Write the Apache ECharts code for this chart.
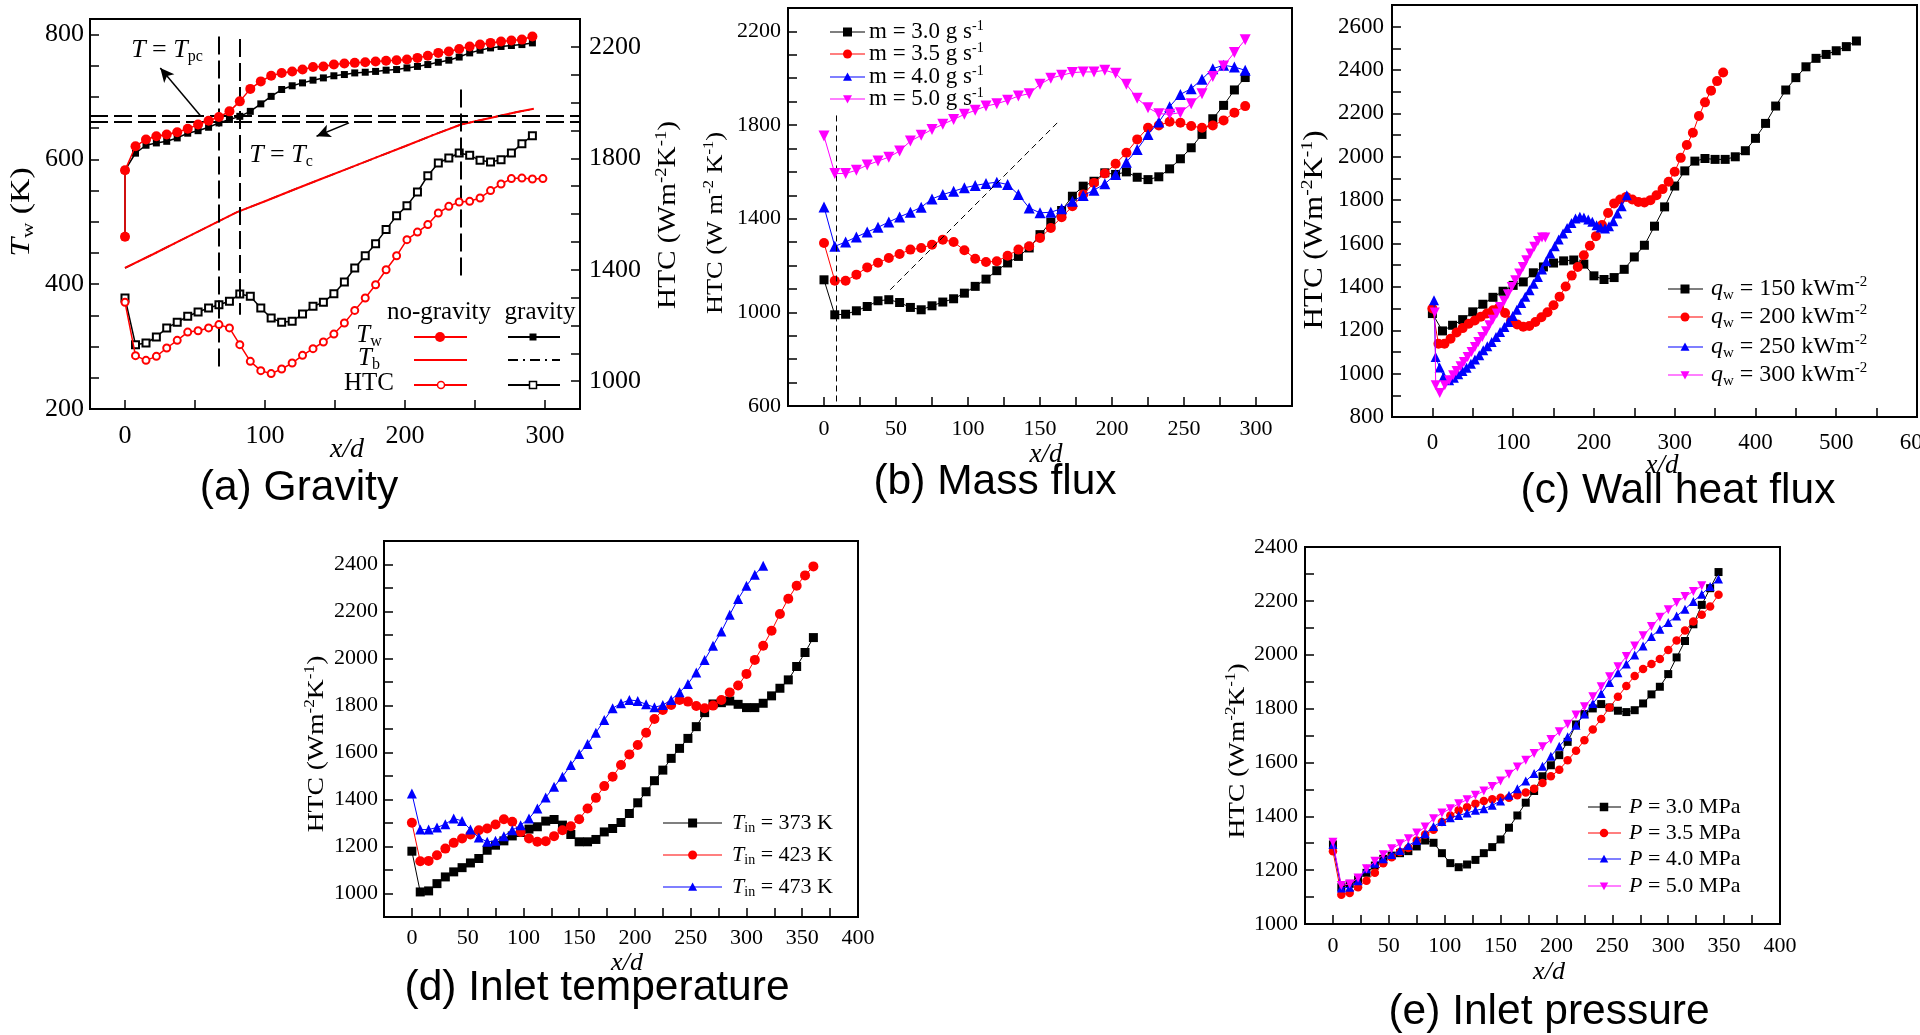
<!DOCTYPE html>
<html><head><meta charset="utf-8">
<script src="https://cdn.jsdelivr.net/npm/echarts@6/dist/echarts.min.js"></script>
<style>html,body{margin:0;padding:0;background:#fff}#c{width:1920px;height:1035px}</style>
</head><body><div id="c"></div><script>
// ---------------- DATA ----------------
// (a) Gravity
const xA = [0,7.5,15,22.4,29.8,37.3,44.8,52.2,59.7,67.1,74.6,82,89.5,97,104.4,111.9,119.4,126.8,134.3,141.7,149.2,156.7,164.1,171.6,179,186.5,194,201.4,208.9,216.3,223.8,231.3,238.7,246.2,253.6,261.1,268.6,276,283.5,291];
const xAlast = 298.5;
const twInlet = 476;
const twNoGravity = [582.6,621,632,637,640,643.5,649,656,662,668,677,693,713,725,734,738.6,741,744,748,749,752,753.6,754.7,755.7,757,758,759,760,762.7,766,770.7,773,777,781,784,786.7,789,790.5,792,797];
const twGravity = [582.6,610,622.7,626.4,629,634.4,642,646,651.5,658.5,664,669,677,689,701,712,718,722.6,727,730.6,734,736,738.6,739.7,741,743,744,746.6,749,752,755.7,759,764,770.7,775,778.7,781,782.5,784,786.7];
const tbX = [0,20,40,60,80,100,120,140,160,180,200,220,240,260,280,292];
const tbValues = [426,448,470.6,493,515.5,533,551,568.5,586,603.6,621,639,656,666,676,681];
const htcGravityA = [1298.5,1131,1137,1158.5,1191,1211,1233,1248,1262.6,1274.5,1286.5,1313,1304.5,1262.6,1226.7,1211,1214.7,1241,1268.5,1283,1314,1356,1406,1450,1493.5,1544,1594,1630,1679,1737.6,1783,1801,1819,1810.6,1792.7,1786.7,1795,1819,1852.5,1881];
const htcNoGravityA = [1283,1091.5,1074.7,1089,1119,1146.5,1176,1181,1191,1203,1191,1131,1071,1037.6,1027,1043.6,1065,1092.6,1116.6,1140.5,1169,1208.7,1254,1298.5,1346,1400,1450,1508,1535,1562,1603.6,1627.5,1643,1645.5,1657.5,1684,1707.7,1727,1729,1725.6,1727];

// (b) Mass flux
const xB = [0,7.5,15,22.5,30,37.5,45,52.5,60,67.5,75,82.5,90,97.5,105,112.5,120,127.5,135,142.5,150,157.5,165,172.5,180,187.5,195,202.5,210,217.5,225,232.5,240,247.5,255,262.5,270,277.5,285,292.5];
const m30 = [1139,989.6,992,1006.7,1025,1049.5,1054,1042,1021,1011,1028,1044,1058,1082,1111,1142,1178,1211,1239,1275,1332,1385,1435,1496,1539,1560,1596,1589,1600,1577,1567,1579,1613,1656,1703,1760,1827,1884,1950,2003];
const m35 = [1296,1135,1135,1161,1192,1212,1232,1249,1268,1275,1289,1310.6,1300.6,1265,1229,1215,1218,1242,1268,1282,1318,1360.6,1406,1453,1503,1553,1593,1634.5,1681.6,1738.7,1788.6,1798.6,1814,1810,1795.8,1788.6,1798.6,1820,1853,1881];
const m40 = [1450.5,1282,1300.6,1322,1343,1363,1386,1407.6,1427.6,1449,1484.7,1503,1517.5,1532,1542,1550,1556,1546,1503,1446,1425,1427.6,1443,1474.7,1499,1522,1549,1589,1641.6,1696,1760,1813,1878.5,1931,1955.6,1995.6,2041,2055.5,2048,2034];
const m50 = [1753,1593,1593,1607,1629,1646,1663,1689,1731.6,1756,1781.5,1803,1824,1845.7,1863,1881,1891,1905.6,1924,1934,1974,2000,2012.6,2024,2027,2027,2034,2021,1974,1914,1874,1848.6,1846,1853,1891,1934,2007,2052.6,2109.6,2164];

// (c) Wall heat flux
const xC150 = [0,12.5,25,37.5,50,62.5,75,87.5,100,112.5,125,137.5,150,162.5,175,187.5,200,212.5,225,237.5,250,262.5,275,287.5,300,312.5,325,337.5,350,362.5,375,387.5,400,412.5,425,437.5,450,462.5,475,487.5,500,512.5,525];
const q150 = [1277,1197,1223,1249,1285,1320,1352,1380,1407,1423,1465,1492,1510,1520,1524,1505,1451,1434,1443,1481,1538,1592,1680,1769,1865,1935,1980,1992,1988,1988,2000,2028,2085,2154,2234,2308,2365,2415,2454,2472,2489,2508,2534];
const xC200 = [0,7.5,15,22.5,30,37.5,45,52.5,60,67.5,75,82.5,90,97.5,105,112.5,120,127.5,135,142.5,150,157.5,165,172.5,180,187.5,195,202.5,210,217.5,225,232.5,240,247.5,255,262.5,270,277.5,285,292.5,300,307.5,315,322.5,330,337.5,345,352.5,360];
const q200 = [1300,1138,1138,1161,1190,1210,1230,1245,1262,1277,1292,1305,1280,1245,1227,1216,1220,1238,1260,1283,1315,1355,1402,1452,1492,1546,1590,1634,1685,1741,1785,1803,1815,1803,1792,1789,1800,1823,1851,1885,1931,1995,2054,2111,2188,2251,2305,2349,2389];
const xC250 = [2,4,9,14,20.7,26.6,32,37.3,42.3,47.7,52.7,58,63,68,73.4,78.8,83.8,89.2,94.2,99.6,104.6,110,115,120.3,125.3,130.7,135.7,141,146,151.5,156.4,161.8,166.8,172.2,177.2,182.6,187.6,193,198,203.3,208.3,213.7,218.7,224,229,234.4,240.7];
const q250 = [1338,1077,1028,988,969,981.5,997,1012,1027.7,1046,1064.6,1084.6,1107.7,1126,1146,1169,1192,1215,1238.5,1266,1295,1326,1354,1384.6,1415,1446,1480,1518.5,1554,1587.7,1618.5,1646,1672,1695,1715,1723,1720,1710.8,1700,1684.6,1674,1669,1680,1703,1738.5,1772,1823];
const xC300 = [2.9,4.1,9.1,15.4,20.7,25.7,29.9,34.9,39,43.6,48.5,52.7,56.8,61.8,66.4,70.5,74.7,79.7,83.8,88.8,93.4,98.3,102.5,107.5,112,116.2,121.2,126.1,130.7,135.7,139.8];
const q300 = [1281.5,946,910.8,946,969,992,1012,1034,1054,1077,1100,1123,1146,1169,1195,1223,1249,1277,1307.7,1335,1366,1400,1430.8,1461.5,1492,1523,1554,1584.6,1612,1627.7,1627.7];

// (d) Inlet temperature
const xD = [0,7.5,15,22.5,30,37.5,45,52.5,60,67.5,75,82.5,90,97.5,105,112.5,120,127.5,135,142.5,150,157.5,165,172.5,180,187.5,195,202.5,210,217.5,225,232.5,240,247.5,255,262.5,270,277.5,285,292.5,300,307.5,315,322.5,330,337.5,345,352.5,360];
const t373 = [1180,1006.6,1011,1042,1070.5,1092,1110,1130,1149,1184,1205.5,1224,1245,1259.5,1274,1284,1308,1315,1291,1251,1220,1220,1230,1262,1276.6,1302,1340.5,1386,1433,1480,1525,1575,1617.6,1660,1710,1769.7,1806.6,1812,1819,1805,1791,1791,1809.5,1841,1873.4,1909,1966,2025.5,2089];
const t423 = [1300.7,1137,1138.7,1163,1191,1215.5,1234,1251,1269.5,1276.6,1293.6,1316,1305,1262,1234,1220,1222.6,1244,1269.5,1286.5,1316,1362,1407,1457,1497,1546.6,1592,1632,1684.4,1742.7,1781,1802,1823.7,1816.6,1798,1788,1799.5,1823.7,1855,1884.8,1934.5,1994,2054,2118,2189,2254.3,2309.7,2353.7,2392];
const t473 = [1425.8,1272,1272,1281,1295,1319,1309,1272,1238,1220,1224,1244,1269.5,1290.8,1319,1362,1408.7,1454,1497,1546.6,1593.5,1636,1684.4,1738.4,1788,1809.5,1823.7,1819.4,1805,1792.4,1802,1823.7,1856.4,1892,1940,1994,2054,2115,2186,2253,2309.7,2356.6,2395];

// (e) Inlet pressure
const xE = [0,7.5,15,22.5,30,37.5,45,52.5,60,67.5,75,82.5,90,97.5,105,112.5,120,127.5,135,142.5,150,157.5,165,172.5,180,187.5,195,202.5,210,217.5,225,232.5,240,247.5,255,262.5,270,277.5,285,292.5,300,307.5,315,322.5,330,337.5,345];
const p30 = [1295.4,1136.5,1149,1165,1190,1217,1242,1254,1263,1270.6,1288,1310,1301.6,1263,1226,1211,1221,1238,1263,1285.5,1314,1357.5,1403,1450.5,1494,1548.6,1589.5,1627,1676.4,1741,1779.4,1800.5,1816.7,1804,1792,1787,1794,1819,1852.7,1881,1928,1990,2051,2113,2185,2247,2307];
const p35 = [1270.6,1109,1115.4,1136.5,1161,1190,1226,1248,1267,1282,1310,1332.6,1350,1378.5,1403,1422,1434,1447,1457,1463,1469,1469,1478,1488,1502.7,1523.8,1548.6,1573,1608,1643,1682.6,1722,1761,1804,1844,1883.7,1921,1947,1965.6,1984,2017.7,2052.5,2090,2123,2148,2179,2222.5];
const p40 = [1295,1134,1136.5,1161,1205,1226,1242,1258,1273,1291.7,1310,1335,1362,1381,1394.7,1403,1412,1422,1428,1440.6,1457,1478,1502.7,1531,1558.5,1586,1623,1660,1695,1738.5,1779.4,1819,1856,1897,1933,1965.6,1999,2032.6,2067.4,2094.7,2119.5,2144,2169,2197.7,2225,2253.6,2281];
const p50 = [1304,1142.7,1149,1171,1205,1233,1257,1279,1298,1316.5,1337.6,1360,1391,1412,1428,1447,1461.7,1478,1494,1511,1531,1556,1583,1608,1633,1658,1685,1713.7,1742,1775.7,1807,1844,1881,1918.5,1955.7,1993,2032.6,2070,2104.6,2139.4,2167,2194,2216.3,2235,2256];

// tick values & labels
const ticksAx = [0,50,100,150,200,250,300], labelsAx = [0,100,200,300];
const ticksAyL = [250,300,350,400,450,500,550,600,650,700,750,800], labelsAyL = [200,400,600,800];
const ticksAyR = [1000,1100,1200,1300,1400,1500,1600,1700,1800,1900,2000,2100,2200], labelsAyR = [1000,1400,1800,2200];
const ticksBx = [0,25,50,75,100,125,150,175,200,225,250,275,300], labelsBx = [0,50,100,150,200,250,300];
const ticksBy = [700,800,900,1000,1100,1200,1300,1400,1500,1600,1700,1800,1900,2000,2100,2200], labelsBy = [600,1000,1400,1800,2200];
const ticksCx = [0,50,100,150,200,250,300,350,400,450,500,550], labelsCx = [0,100,200,300,400,500,600];
const ticksCy = [900,1000,1100,1200,1300,1400,1500,1600,1700,1800,1900,2000,2100,2200,2300,2400,2500,2600], labelsCy = [800,1000,1200,1400,1600,1800,2000,2200,2400,2600];
const ticksDx = [0,25,50,75,100,125,150,175,200,225,250,275,300,325,350,375], labelsDx = [0,50,100,150,200,250,300,350,400];
const ticksDy = [1000,1100,1200,1300,1400,1500,1600,1700,1800,1900,2000,2100,2200,2300,2400], labelsDy = [1000,1200,1400,1600,1800,2000,2200,2400];
const ticksEx = ticksDx, labelsEx = labelsDx;
const ticksEy = [1100,1200,1300,1400,1500,1600,1700,1800,1900,2000,2100,2200,2300], labelsEy = [1000,1200,1400,1600,1800,2000,2200,2400];

// legend texts / titles
const legendB = ['{n|m = 3.0 g s}{sup|-1}','{n|m = 3.5 g s}{sup|-1}','{n|m = 4.0 g s}{sup|-1}','{n|m = 5.0 g s}{sup|-1}'];
const legendC = ['{i|q}{sub|w}{n| = 150 kWm}{sup|-2}','{i|q}{sub|w}{n| = 200 kWm}{sup|-2}','{i|q}{sub|w}{n| = 250 kWm}{sup|-2}','{i|q}{sub|w}{n| = 300 kWm}{sup|-2}'];
const legendD = ['{i|T}{sub|in}{n| = 373 K}','{i|T}{sub|in}{n| = 423 K}','{i|T}{sub|in}{n| = 473 K}'];
const legendE = ['{i|P}{n| = 3.0 MPa}','{i|P}{n| = 3.5 MPa}','{i|P}{n| = 4.0 MPa}','{i|P}{n| = 5.0 MPa}'];
const titles = ['(a) Gravity','(b) Mass flux','(c) Wall heat flux','(d) Inlet temperature','(e) Inlet pressure'];

// ---------------- CHART ----------------
const SERIF = "'Liberation Serif','Times New Roman',serif";
const SANS = "'Liberation Sans',Arial,sans-serif";
const BLK='#000000', RED='#ff0000', BLU='#0000ff', MAG='#ff00ff';

function rich(s){
  const sm=Math.round(s*0.62), lh=Math.round(s*1.15);
  return {
    n:{fontFamily:SERIF,fontSize:s,lineHeight:lh,color:'#000'},
    i:{fontFamily:SERIF,fontSize:s,fontStyle:'italic',lineHeight:lh,color:'#000'},
    sup:{fontFamily:SERIF,fontSize:sm,lineHeight:sm,verticalAlign:'top',color:'#000'},
    sub:{fontFamily:SERIF,fontSize:sm,lineHeight:sm,verticalAlign:'bottom',color:'#000'}
  };
}
function T(x,y,text,size,opt){
  opt=opt||{};
  const al=opt.align||'center';
  return {type:'text',x:x,y:y,rotation:opt.rot||0,scaleX:opt.sx||1,scaleY:opt.sy||1,z:100,silent:true,
    style:{text:text,rich:rich(size),fontFamily:opt.font||SERIF,fontSize:size,fill:'#000',
      align:al,textAlign:al,verticalAlign:'middle',textVerticalAlign:'middle'}};
}
function seg(x1,y1,x2,y2,color,w,dash){
  return {type:'line',z:100,silent:true,shape:{x1:x1,y1:y1,x2:x2,y2:y2},style:{stroke:color,lineWidth:w,lineDash:dash||null}};
}
function sym(type,cx,cy,s,color){
  const h=s/2;
  if(type==='rect') return {type:'rect',z:101,silent:true,shape:{x:cx-h,y:cy-h,width:s,height:s},style:{fill:color}};
  if(type==='emptyRect') return {type:'rect',z:101,silent:true,shape:{x:cx-h,y:cy-h,width:s,height:s},style:{fill:'#fff',stroke:color,lineWidth:1.5}};
  if(type==='circle') return {type:'circle',z:101,silent:true,shape:{cx:cx,cy:cy,r:h},style:{fill:color}};
  if(type==='emptyCircle') return {type:'circle',z:101,silent:true,shape:{cx:cx,cy:cy,r:h},style:{fill:'#fff',stroke:color,lineWidth:1.5}};
  if(type==='tri') return {type:'polygon',z:101,silent:true,shape:{points:[[cx,cy-h],[cx+h,cy+h*0.85],[cx-h,cy+h*0.85]]},style:{fill:color}};
  return {type:'polygon',z:101,silent:true,shape:{points:[[cx,cy+h],[cx+h,cy-h*0.85],[cx-h,cy-h*0.85]]},style:{fill:color}};
}
function plain(v){ return String(v); }
function xAx(gi,min,max,ticks,labels,fs,margin){
  return {type:'value',gridIndex:gi,min:min,max:max,
    axisLine:{show:true,onZero:false,lineStyle:{color:'#000',width:2}},
    axisTick:{show:true,inside:true,length:9,customValues:ticks,lineStyle:{color:'#000',width:1.5}},
    axisLabel:{show:true,customValues:labels,formatter:plain,fontFamily:SERIF,fontSize:fs,color:'#000',margin:margin},
    splitLine:{show:false}};
}
function yAx(gi,min,max,ticks,labels,fs,pos,margin){
  return {type:'value',gridIndex:gi,min:min,max:max,position:pos||'left',
    axisLine:{show:true,onZero:false,lineStyle:{color:'#000',width:2}},
    axisTick:{show:true,inside:true,length:9,customValues:ticks,lineStyle:{color:'#000',width:1.5}},
    axisLabel:{show:true,customValues:labels,formatter:plain,fontFamily:SERIF,fontSize:fs,color:'#000',margin:margin||7},
    splitLine:{show:false}};
}
function pairs(xs,ys){ return ys.map(function(y,i){return [xs[i],y];}); }
function ser(name,xs,ys,xi,yi,color,symbol,size,extra){
  const s={type:'line',name:name,xAxisIndex:xi,yAxisIndex:yi,data:pairs(xs,ys),
    symbol:symbol,symbolSize:size,showSymbol:true,showAllSymbol:true,color:color,
    lineStyle:{color:color,width:1},itemStyle:{color:color},emphasis:{disabled:true},silent:true,animation:false};
  if(symbol==='emptyCircle'||symbol==='emptyRect'){ s.itemStyle={color:color,borderColor:color,borderWidth:1.5}; }
  return Object.assign(s,extra||{});
}

const grids=[
  {left:90,top:19,width:490,height:390},
  {left:788,top:8,width:504,height:398},
  {left:1392,top:5,width:525,height:412},
  {left:384,top:541,width:474,height:376},
  {left:1305,top:547,width:475,height:377}
].map(function(g){return Object.assign({show:true,borderColor:'#000',borderWidth:2,backgroundColor:'transparent',containLabel:false,outerBoundsMode:'none'},g);});

const xAxes=[
  xAx(0,-25,325,ticksAx,labelsAx,26,14),
  xAx(1,-25,325,ticksBx,labelsBx,22,12),
  xAx(2,-50,600,ticksCx,labelsCx,23,14),
  xAx(3,-25,400,ticksDx,labelsDx,22,10),
  xAx(4,-25,400,ticksEx,labelsEx,22,11)
];
const yAxes=[
  yAx(0,200,825,ticksAyL,labelsAyL,26,'left',6),
  yAx(0,900,2300,ticksAyR,labelsAyR,26,'right',9),
  yAx(1,600,2300,ticksBy,labelsBy,22,'left',7),
  yAx(2,800,2700,ticksCy,labelsCy,23,'left',8),
  yAx(3,900,2500,ticksDy,labelsDy,22,'left',6),
  yAx(4,1000,2400,ticksEy,labelsEy,22,'left',7)
];

const dashA={color:'#000',width:2,type:[18,6]};
const arrowStyle={color:'#000',width:1.5,type:'solid'};
const series=[
  ser('Tb gravity',tbX,tbValues,0,0,BLK,'none',0,{lineStyle:{color:BLK,width:1.5,type:[10,4,2,4]},z:2}),
  ser('Tb no-gravity',tbX,tbValues,0,0,RED,'none',0,{lineStyle:{color:RED,width:2},z:3,
    markLine:{silent:true,symbol:['none','none'],label:{show:false},lineStyle:dashA,animation:false,
      data:[
        {yAxis:670},{yAxis:660},
        [{coord:[67.2,797]},{coord:[67.2,268]}],
        [{coord:[81.7,793]},{coord:[81.7,351]}],
        [{coord:[239.6,712]},{coord:[239.6,407]}],
        [{coord:[54.2,669],symbol:'none',lineStyle:arrowStyle},{coord:[25.2,746.6],symbol:'arrow',symbolSize:[10,14],lineStyle:arrowStyle}],
        [{coord:[160,658.5],symbol:'none',lineStyle:arrowStyle},{coord:[136.8,637.1],symbol:'arrow',symbolSize:[10,14],lineStyle:arrowStyle}]
      ]}}),
  ser('Tw gravity',[0].concat(xA),[twInlet].concat(twGravity),0,0,BLK,'rect',7,{lineStyle:{color:BLK,width:1.5},z:4}),
  ser('Tw no-gravity',[0].concat(xA),[twInlet].concat(twNoGravity),0,0,RED,'circle',10,{lineStyle:{color:RED,width:1.5},z:5}),
  ser('HTC gravity',xA,htcGravityA,0,1,BLK,'emptyRect',7,{lineStyle:{color:BLK,width:1.5},z:4}),
  ser('HTC no-gravity',xA.concat([xAlast]),htcNoGravityA,0,1,RED,'emptyCircle',7,{lineStyle:{color:RED,width:1.5},z:5}),

  ser('m3.0',xB,m30,1,2,BLK,'rect',9,{z:2,markLine:{silent:true,symbol:['none','none'],label:{show:false},animation:false,
      lineStyle:{color:'#000',width:1,type:[6,4]},
      data:[[{coord:[8.2,1841]},{coord:[8.2,600]}],[{coord:[46,1096.6]},{coord:[163.2,1817]}]]}}),
  ser('m3.5',xB,m35,1,2,RED,'circle',10,{z:3}),
  ser('m4.0',xB,m40,1,2,BLU,'triangle',11,{z:4}),
  ser('m5.0',xB,m50,1,2,MAG,'triangle',11,{z:5,symbolRotate:180}),

  ser('q150',xC150,q150,2,3,BLK,'rect',9,{z:2}),
  ser('q200',xC200,q200,2,3,RED,'circle',10,{z:3}),
  ser('q250',xC250,q250,2,3,BLU,'triangle',10,{z:4}),
  ser('q300',xC300,q300,2,3,MAG,'triangle',10,{z:5,symbolRotate:180}),

  ser('T373',xD,t373,3,4,BLK,'rect',9,{z:2}),
  ser('T423',xD,t423,3,4,RED,'circle',10,{z:3}),
  ser('T473',xD,t473,3,4,BLU,'triangle',10,{z:4}),

  ser('P3.0',xE,p30,4,5,BLK,'rect',8,{z:2}),
  ser('P3.5',xE,p35,4,5,RED,'circle',8.5,{z:3}),
  ser('P4.0',xE,p40,4,5,BLU,'triangle',9,{z:4}),
  ser('P5.0',xE,p50,4,5,MAG,'triangle',9,{z:5,symbolRotate:180})
];

// graphics: axis names, titles, legends, annotations
const g=[];
const R90=Math.PI/2;
// axis names
g.push(T(22,212,'{i|T}{sub|w}{n| (K)}',27,{rot:R90,sx:1.25}));
g.push(T(668,215,'{n|HTC (Wm}{sup|-2}{n|K}{sup|-1}{n|)}',25,{rot:R90,sx:1.17}));
g.push(T(716,223,'{n|HTC (W m}{sup|-2}{n| K}{sup|-1}{n|)}',24,{rot:R90,sx:1.1}));
g.push(T(1315,230,'{n|HTC (Wm}{sup|-2}{n|K}{sup|-1}{n|)}',27,{rot:R90,sx:1.15}));
g.push(T(317,744,'{n|HTC (Wm}{sup|-2}{n|K}{sup|-1}{n|)}',24,{rot:R90,sx:1.15}));
g.push(T(1238,751,'{n|HTC (Wm}{sup|-2}{n|K}{sup|-1}{n|)}',24,{rot:R90,sx:1.14}));
// x/d
g.push(T(347,450,'{i|x/d}',28));
g.push(T(1046,455,'{i|x/d}',27));
g.push(T(1662,466,'{i|x/d}',27));
g.push(T(627,963,'{i|x/d}',26));
g.push(T(1549,972,'{i|x/d}',26));
// titles
[[299,488],[995,482],[1678,491],[597,988],[1549,1012]].forEach(function(p,i){
  g.push(T(p[0],p[1],titles[i],42.5,{font:SANS}));
});
// annotations (a)
g.push(T(167,50,'{i|T}{n| = }{i|T}{sub|pc}',26));
g.push(T(281,155,'{i|T}{n| = }{i|T}{sub|c}',26));
// legend (a)
g.push(T(439,312,'{n|no-gravity}',25));
g.push(T(540,312,'{n|gravity}',25));
g.push(T(369,335,'{i|T}{sub|w}',25));
g.push(T(369,358,'{i|T}{sub|b}',25));
g.push(T(369,383,'{n|HTC}',25));
g.push(seg(414,337,467,337,RED,2)); g.push(sym('circle',440,337,10,RED));
g.push(seg(414,360,467,360,RED,2));
g.push(seg(414,385,467,385,RED,2)); g.push(sym('emptyCircle',441,385,7,RED));
g.push(seg(508,337,560,337,BLK,2)); g.push(sym('rect',533,337,7,BLK));
g.push(seg(508,360,560,360,BLK,2,[10,5,2,5]));
g.push(seg(508,385,560,385,BLK,2)); g.push(sym('emptyRect',533,385,7,BLK));
// legend helper
function legend(rows,x1,x2,mx,tx,items,fs,size){
  items.forEach(function(it,i){
    g.push(seg(x1,rows[i],x2,rows[i],it[0],1.2));
    g.push(sym(it[1],mx,rows[i],size,it[0]));
    g.push(T(tx,rows[i],it[2],fs,{align:'left'}));
  });
}
legend([32,54,77,99],830,865,847.5,869,[[BLK,'rect',legendB[0]],[RED,'circle',legendB[1]],[BLU,'tri',legendB[2]],[MAG,'triDown',legendB[3]]],23,9);
legend([289,317,347,375],1668,1703,1685,1711,[[BLK,'rect',legendC[0]],[RED,'circle',legendC[1]],[BLU,'tri',legendC[2]],[MAG,'triDown',legendC[3]]],24,9);
legend([823,855,887],663,722,692.6,732,[[BLK,'rect',legendD[0]],[RED,'circle',legendD[1]],[BLU,'tri',legendD[2]]],22,9);
legend([807,833,859,886],1588,1621,1604,1629,[[BLK,'rect',legendE[0]],[RED,'circle',legendE[1]],[BLU,'tri',legendE[2]],[MAG,'triDown',legendE[3]]],22,8.5);

const chart=echarts.init(document.getElementById('c'),null,{renderer:'canvas',width:1920,height:1035});
chart.setOption({
  animation:false,
  backgroundColor:'#ffffff',
  grid:grids,
  xAxis:xAxes,
  yAxis:yAxes,
  series:series,
  graphic:{elements:g}
});
</script></body></html>
